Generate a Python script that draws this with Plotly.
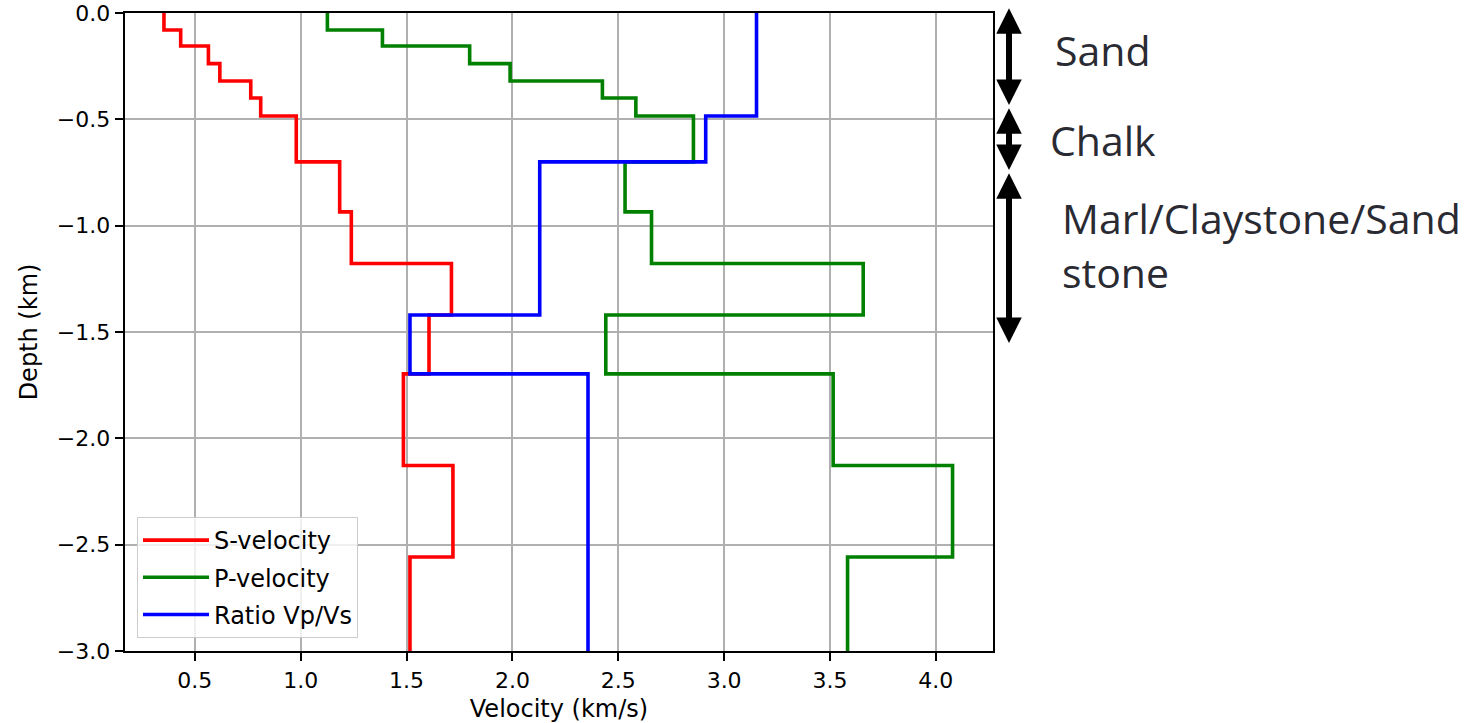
import numpy as np
import plotly.graph_objects as go

# ---- data ----
layer_tops_km = [0.0, 0.08, 0.155, 0.238, 0.32, 0.40, 0.484, 0.70, 0.935, 1.178, 1.42, 1.697, 2.128, 2.558]
model_bottom_km = 3.0
s_velocity = [0.354, 0.433, 0.564, 0.618, 0.764, 0.811, 0.979, 1.184, 1.239, 1.712, 1.606, 1.485, 1.719, 1.516]
p_velocity = [1.126, 1.386, 1.798, 1.989, 2.425, 2.583, 2.855, 2.532, 2.657, 3.657, 2.441, 3.515, 4.079, 3.583]
ratio_vpvs = [3.153, 3.153, 3.153, 3.153, 3.153, 3.153, 2.913, 2.129, 2.129, 2.129, 1.516, 2.357, 2.357, 2.357]

x_ticks = [0.5, 1.0, 1.5, 2.0, 2.5, 3.0, 3.5, 4.0]
y_ticks = [0.0, -0.5, -1.0, -1.5, -2.0, -2.5, -3.0]

layer_labels = ["Sand", "Chalk", "Marl/Claystone/Sand", "stone"]

series = [
    ("S-velocity", s_velocity, "#ff0000"),
    ("P-velocity", p_velocity, "#008000"),
    ("Ratio Vp/Vs", ratio_vpvs, "#0000ff"),
]

depth_pts = -np.array(layer_tops_km + [model_bottom_km])

fig = go.Figure()
for i, (name, vals, color) in enumerate(series):
    xs = np.array(vals + [vals[-1]])
    fig.add_trace(go.Scatter(
        x=xs, y=depth_pts, mode="lines", name=name, legendgroup=f"g{i}",
        line=dict(color=color, width=3.6, shape="vh"),
    ))

W, H = 1472, 723
L, R, T, B = 125, 479, 13, 72
pw, ph = W - L - R, H - T - B

def px_x(p):
    return (p - L) / pw

def px_y(p):
    return (H - B - p) / ph

axis_common = dict(
    showline=True, linecolor="black", linewidth=1.9, mirror=True,
    ticks="outside", ticklen=8.5, tickwidth=1.9, tickcolor="black",
    showgrid=True, gridcolor="#b0b0b0", gridwidth=1.8,
    zeroline=False, automargin=False, ticklabeloverflow="allow",
    tickfont=dict(family="DejaVu Sans", size=22, color="black"),
)

fig.update_layout(
    width=W, height=H, autosize=False,
    margin=dict(l=L, r=R, t=T, b=B, pad=0, autoexpand=False),
    paper_bgcolor="white", plot_bgcolor="white",
    font=dict(family="DejaVu Sans", size=24, color="black"),
    xaxis=dict(range=[0.17, 4.27], tickvals=x_ticks, tickformat=".1f",
               title=dict(text="Velocity (km/s)", standoff=8,
                          font=dict(family="DejaVu Sans", size=24)),
               **axis_common),
    yaxis=dict(range=[-3.0, 0.0], tickvals=y_ticks, tickformat=".1f",
               title=dict(text="Depth (km)", standoff=12,
                          font=dict(family="DejaVu Sans", size=24)),
               **axis_common),
    legend=dict(x=px_x(137), y=px_y(638), xanchor="left", yanchor="bottom",
                bgcolor="rgba(255,255,255,0.8)", bordercolor="#cccccc", borderwidth=1,
                itemwidth=66, tracegroupgap=3,
                font=dict(family="DejaVu Sans", size=24, color="black")),
    showlegend=True,
)

# double-headed arrows marking the layers
arrows = [(6.7, 105), (106.7, 170), (171.7, 343)]
for top, bot in arrows:
    fig.add_annotation(
        x=px_x(1009), y=px_y(bot), xref="paper", yref="paper",
        ax=0, ay=-(bot - top), axref="pixel", ayref="pixel",
        text="", showarrow=True, arrowside="end+start",
        arrowhead=2, startarrowhead=2, arrowsize=0.85, startarrowsize=0.85,
        arrowwidth=6, arrowcolor="black",
    )

label_pos = [(1053, 50), (1048, 140), (1060, 218), (1060, 272)]
for txt, (lx, ly) in zip(layer_labels, label_pos):
    fig.add_annotation(
        x=px_x(lx), y=px_y(ly), xref="paper", yref="paper",
        text=txt, showarrow=False, xanchor="left", yanchor="middle",
        font=dict(family="Open Sans", size=41, color="#2a2a33"),
    )

fig.write_html("out.html")
